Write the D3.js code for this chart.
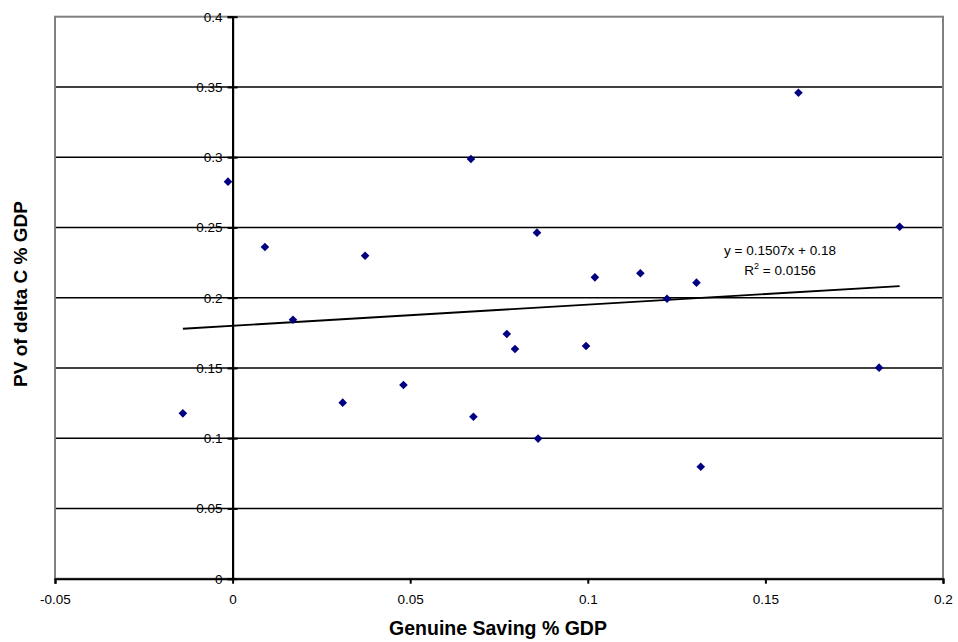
<!DOCTYPE html>
<html>
<head>
<meta charset="utf-8">
<script src="https://cdn.jsdelivr.net/npm/d3@7"></script>
<style>
  html, body { margin: 0; padding: 0; background: #fff; }
  svg { display: block; font-family: "Liberation Sans", Arial, sans-serif; }
</style>
</head>
<body>
<svg id="chart" width="958" height="642"></svg>
<script>
// Genuine Saving % GDP (x) vs PV of delta C % GDP (y)
const savingX = [-0.0140, -0.0013, 0.0091, 0.0170, 0.0310, 0.0373, 0.0481, 0.0671, 0.0678, 0.0772, 0.0795,
                 0.0857, 0.0860, 0.0995, 0.1020, 0.1148, 0.1223, 0.1306, 0.1318, 0.1593, 0.1820, 0.1878];
const pvDeltaC = [0.1177, 0.2826, 0.2361, 0.1843, 0.1253, 0.2299, 0.1379, 0.2987, 0.1153, 0.1742, 0.1635,
                  0.2463, 0.0997, 0.1656, 0.2145, 0.2174, 0.1993, 0.2107, 0.0797, 0.3459, 0.1502, 0.2505];
const xTicks = [-0.05, 0, 0.05, 0.1, 0.15, 0.2];
const yTicks = [0, 0.05, 0.1, 0.15, 0.2, 0.25, 0.3, 0.35, 0.4];
const trendSlope = 0.1507;
const trendIntercept = 0.18;
const trendLabel = "y = 0.1507x + 0.18";
const r2Value = "0.0156";
const xTitle = "Genuine Saving % GDP";
const yTitle = "PV of delta C % GDP";

const svg = d3.select("#chart");
const L = 55, R = 943, T = 16.7, B = 578.7;
const x = d3.scaleLinear().domain([-0.05, 0.2]).range([L, R]);
const y = d3.scaleLinear().domain([0, 0.4]).range([B, T]);

// gridlines
svg.append("g").selectAll("line").data(yTicks.filter(d => d > 0 && d < 0.4)).join("line")
  .attr("x1", L).attr("x2", R).attr("y1", d => y(d)).attr("y2", d => y(d))
  .attr("stroke", "#000").attr("stroke-width", 1.4);

// plot border
svg.append("rect").attr("x", L).attr("y", T).attr("width", R - L).attr("height", B - T)
  .attr("fill", "none").attr("stroke", "#808080").attr("stroke-width", 2);

// x axis at y=0
const xAxis = d3.axisBottom(x).tickValues(xTicks).tickSize(5).tickPadding(11)
  .tickFormat(d => String(+d.toFixed(2)));
const gx = svg.append("g").attr("transform", `translate(0,${y(0)})`).call(xAxis);
gx.select(".domain").attr("stroke", "#000").attr("stroke-width", 2);
gx.selectAll(".tick line").attr("stroke", "#000").attr("stroke-width", 2);
gx.selectAll("text").attr("font-size", "13.5px").attr("fill", "#000")
  .attr("font-family", "Liberation Sans, Arial, sans-serif");

// y axis at x=0
const yAxis = d3.axisLeft(y).tickValues(yTicks).tickSize(5).tickPadding(5)
  .tickFormat(d => String(+d.toFixed(2)));
const gy = svg.append("g").attr("transform", `translate(${x(0)},0)`).call(yAxis);
gy.select(".domain").attr("stroke", "#000").attr("stroke-width", 2.2);
gy.selectAll(".tick line").attr("x1", -5).attr("x2", 5).attr("stroke", "#000").attr("stroke-width", 2);
gy.selectAll("text").attr("font-size", "13.5px").attr("fill", "#000")
  .attr("font-family", "Liberation Sans, Arial, sans-serif");

// trend line
const xMin = d3.min(savingX), xMax = d3.max(savingX);
svg.append("line")
  .attr("x1", x(xMin)).attr("y1", y(trendSlope * xMin + trendIntercept))
  .attr("x2", x(xMax)).attr("y2", y(trendSlope * xMax + trendIntercept))
  .attr("stroke", "#000").attr("stroke-width", 1.8);

// points
const pts = savingX.map((v, i) => [v, pvDeltaC[i]]);
svg.append("g").selectAll("path").data(pts).join("path")
  .attr("transform", d => `translate(${x(d[0])},${y(d[1])})`)
  .attr("d", "M0,-4.3L4.3,0L0,4.3L-4.3,0Z")
  .attr("fill", "#000080");

// equation
const eq = svg.append("text").attr("font-size", "13.5px").attr("text-anchor", "middle").attr("fill", "#000");
eq.append("tspan").attr("x", 780).attr("y", 255).text(trendLabel);
const r2 = svg.append("text").attr("font-size", "13.5px").attr("text-anchor", "middle").attr("fill", "#000")
  .attr("x", 780).attr("y", 275);
r2.append("tspan").text("R");
r2.append("tspan").attr("font-size", "9px").attr("dy", -6).text("2");
r2.append("tspan").attr("dy", 6).text(" = " + r2Value);

// axis titles
svg.append("text").attr("x", 498).attr("y", 635).attr("text-anchor", "middle")
  .attr("font-size", "19.5px").attr("font-weight", "bold").text(xTitle);
svg.append("text").attr("transform", "translate(27,294) rotate(-90)").attr("text-anchor", "middle")
  .attr("font-size", "19px").attr("font-weight", "bold").text(yTitle);
</script>
</body>
</html>
